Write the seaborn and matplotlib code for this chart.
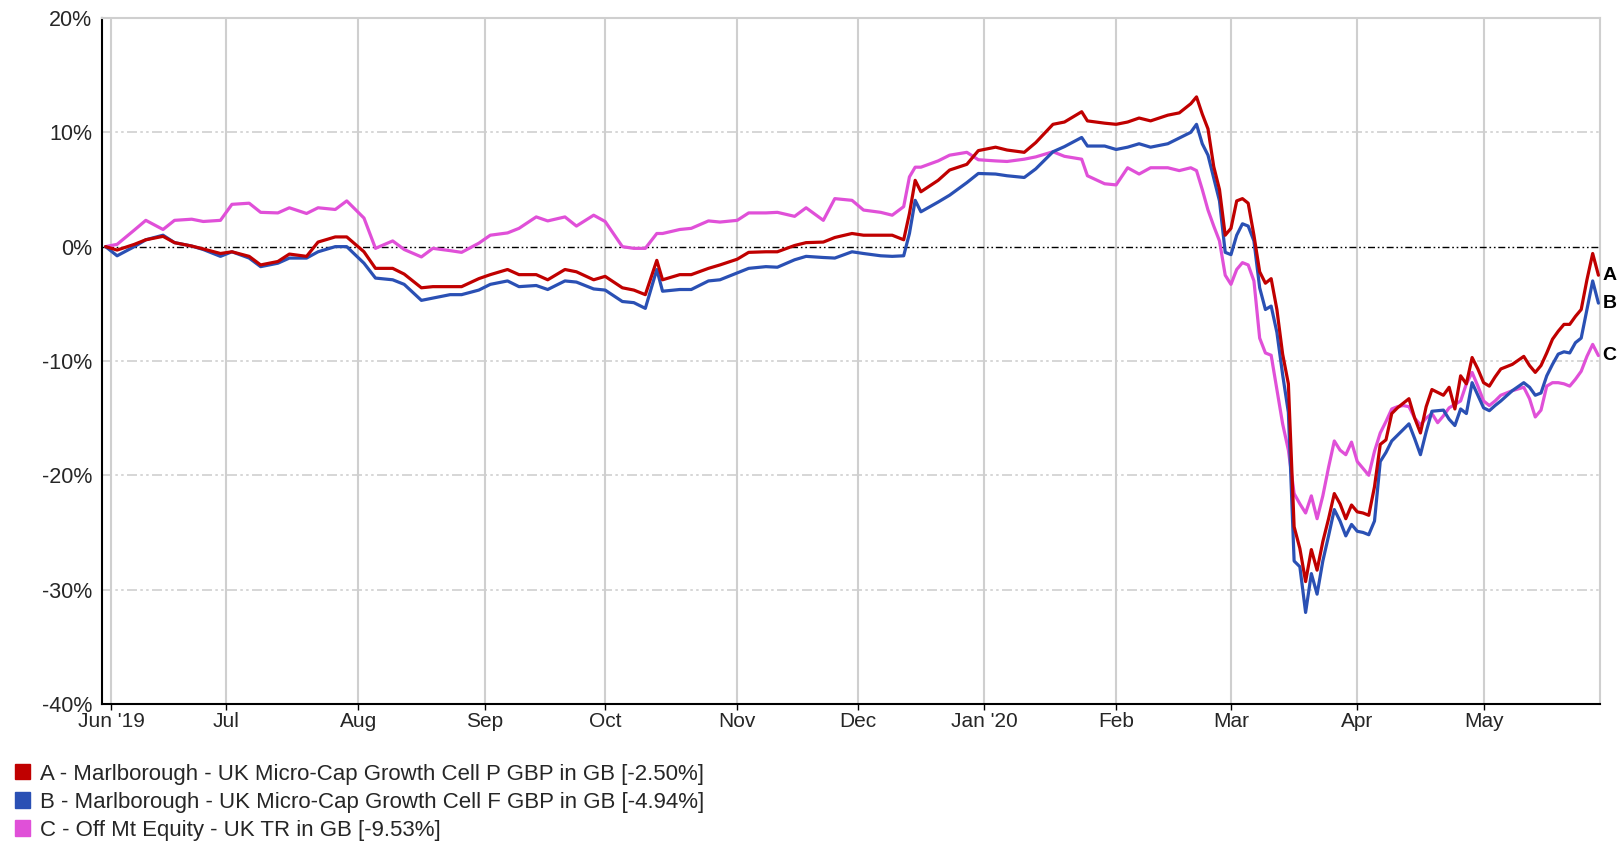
import numpy as np
import pandas as pd
import matplotlib
matplotlib.use("Agg")
import matplotlib.pyplot as plt
from matplotlib.patches import Patch
import seaborn as sns

# values (cumulative % performance)
dates = [
    "2019-05-31", "2019-06-04", "2019-06-07", "2019-06-11", "2019-06-14", "2019-06-18",
    "2019-06-21", "2019-06-25", "2019-06-28", "2019-07-02", "2019-07-05", "2019-07-09",
    "2019-07-12", "2019-07-16", "2019-07-19", "2019-07-23", "2019-07-26", "2019-07-30",
    "2019-08-02", "2019-08-06", "2019-08-09", "2019-08-13", "2019-08-16", "2019-08-20",
    "2019-08-23", "2019-08-27", "2019-08-30", "2019-09-03", "2019-09-06", "2019-09-10",
    "2019-09-13", "2019-09-17", "2019-09-20", "2019-09-24", "2019-09-27", "2019-10-01",
    "2019-10-04", "2019-10-08", "2019-10-10", "2019-10-14", "2019-10-15", "2019-10-18",
    "2019-10-22", "2019-10-25", "2019-10-29", "2019-11-01", "2019-11-05", "2019-11-08",
    "2019-11-12", "2019-11-15", "2019-11-19", "2019-11-22", "2019-11-26", "2019-11-29",
    "2019-12-03", "2019-12-06", "2019-12-10", "2019-12-12", "2019-12-13", "2019-12-16",
    "2019-12-17", "2019-12-20", "2019-12-24", "2019-12-27", "2019-12-31", "2020-01-03",
    "2020-01-07", "2020-01-10", "2020-01-14", "2020-01-17", "2020-01-21", "2020-01-24",
    "2020-01-27", "2020-01-30", "2020-02-03", "2020-02-05", "2020-02-07", "2020-02-11",
    "2020-02-14", "2020-02-18", "2020-02-20", "2020-02-21", "2020-02-24", "2020-02-25",
    "2020-02-26", "2020-02-27", "2020-02-28", "2020-03-02", "2020-03-03", "2020-03-04",
    "2020-03-05", "2020-03-06", "2020-03-09", "2020-03-10", "2020-03-11", "2020-03-12",
    "2020-03-13", "2020-03-16", "2020-03-17", "2020-03-18", "2020-03-19", "2020-03-20",
    "2020-03-23", "2020-03-24", "2020-03-25", "2020-03-26", "2020-03-27", "2020-03-30",
    "2020-03-31", "2020-04-01", "2020-04-02", "2020-04-03", "2020-04-06", "2020-04-07",
    "2020-04-08", "2020-04-09", "2020-04-10", "2020-04-13", "2020-04-14", "2020-04-15",
    "2020-04-16", "2020-04-17", "2020-04-20", "2020-04-21", "2020-04-22", "2020-04-23",
    "2020-04-24", "2020-04-27", "2020-04-28", "2020-04-29", "2020-04-30", "2020-05-01",
    "2020-05-04", "2020-05-05", "2020-05-06", "2020-05-08", "2020-05-12", "2020-05-13",
    "2020-05-14", "2020-05-15", "2020-05-18", "2020-05-19", "2020-05-20", "2020-05-21",
    "2020-05-22", "2020-05-25", "2020-05-26", "2020-05-27", "2020-05-28", "2020-05-29",
]

cell_p = [
    0, -0.3, 0.2, 0.6, 0.9, 0.35,
    0.05, -0.2, -0.6, -0.45, -0.85, -1.6,
    -1.3, -0.65, -0.85, 0.4, 0.85, 0.85,
    -0.45, -1.9, -1.9, -2.4, -3.6, -3.5,
    -3.5, -3.5, -2.8, -2.45, -2.0, -2.45,
    -2.45, -2.9, -2.0, -2.2, -2.9, -2.6,
    -3.6, -3.8, -4.2, -1.2, -2.9, -2.45,
    -2.45, -1.9, -1.6, -1.1, -0.5, -0.45,
    -0.45, 0.1, 0.35, 0.4, 0.8, 1.15,
    1.0, 1.0, 1.0, 0.6, 2.9, 5.8,
    4.8, 5.8, 6.7, 7.2, 8.4, 8.7,
    8.45, 8.25, 9.1, 10.7, 10.9, 11.8,
    11.0, 10.8, 10.7, 10.9, 11.25, 11.0,
    11.5, 11.7, 12.5, 13.1, 11.6, 10.3,
    7.0, 5.0, 1.0, 1.6, 4.0, 4.2,
    3.8, 1.0, -2.2, -3.2, -2.8, -5.5,
    -9.4, -12.0, -24.5, -26.4, -29.3, -26.5,
    -28.3, -25.8, -23.8, -21.6, -22.5, -23.8,
    -22.6, -23.2, -23.3, -23.5, -21.0, -17.3,
    -16.9, -14.6, -14.1, -13.7, -13.3, -15.0,
    -16.3, -14.0, -12.5, -12.75, -13.0, -12.3,
    -14.2, -11.3, -12.0, -9.7, -10.7, -11.9,
    -12.2, -11.4, -10.7, -10.3, -9.6, -10.4,
    -11.0, -10.4, -9.3, -8.1, -7.4, -6.8,
    -6.8, -6.1, -5.5, -2.9, -0.6, -2.50,
]

cell_f = [
    0, -0.8, 0.0, 0.6, 1.0, 0.35,
    0.05, -0.25, -0.85, -0.45, -1.0, -1.75,
    -1.45, -1.0, -1.0, -0.45, 0.0, 0.0,
    -1.45, -2.75, -2.9, -3.3, -4.7, -4.5,
    -4.2, -4.2, -3.8, -3.3, -3.0, -3.5,
    -3.4, -3.75, -3.0, -3.1, -3.7, -3.8,
    -4.8, -4.9, -5.4, -2.0, -3.9, -3.75,
    -3.75, -3.0, -2.9, -2.3, -1.9, -1.75,
    -1.8, -1.15, -0.85, -0.95, -1.0, -0.45,
    -0.6, -0.8, -0.85, -0.8, 1.15, 4.05,
    3.05, 3.9, 4.5, 5.6, 6.4, 6.35,
    6.2, 6.05, 6.8, 8.3, 8.75, 9.55,
    8.8, 8.8, 8.5, 8.7, 9.0, 8.7,
    9.0, 9.5, 10.0, 10.7, 9.0, 8.0,
    6.0, 4.0, -0.5, -0.7, 1.0, 2.0,
    1.8, 0.5, -3.6, -5.5, -5.2, -7.5,
    -11.2, -14.5, -27.5, -28.0, -32.0, -28.6,
    -30.4, -27.5, -25.3, -23.0, -24.0, -25.3,
    -24.3, -24.9, -25.0, -25.2, -24.0, -18.8,
    -18.0, -17.0, -16.5, -16.0, -15.5, -16.8,
    -18.2, -16.2, -14.4, -14.35, -14.3, -15.1,
    -15.65, -14.2, -14.6, -11.9, -13.0, -14.1,
    -14.35, -13.9, -13.5, -12.6, -11.9, -12.3,
    -13.0, -12.8, -11.3, -10.3, -9.4, -9.2,
    -9.3, -8.4, -8.0, -5.5, -3.0, -4.94,
]

sector_uk = [
    0, 0.2, 1.45, 2.3, 1.5, 2.3,
    2.4, 2.2, 2.3, 3.7, 3.8, 3.0,
    2.95, 3.4, 2.9, 3.4, 3.25, 4.0,
    2.5, -0.15, 0.5, -0.25, -0.9, -0.15,
    -0.35, -0.5, 0.3, 1.0, 1.2, 1.6,
    2.6, 2.25, 2.6, 1.8, 2.75, 2.2,
    0.0, -0.15, -0.15, 1.15, 1.15, 1.5,
    1.6, 2.25, 2.15, 2.3, 2.95, 2.95,
    3.0, 2.65, 3.4, 2.3, 4.2, 4.05,
    3.2, 3.0, 2.75, 3.5, 6.1, 6.95,
    6.95, 7.5, 8.0, 8.25, 7.6, 7.5,
    7.45, 7.65, 7.85, 8.3, 7.9, 7.65,
    6.2, 5.5, 5.4, 6.9, 6.35, 6.9,
    6.9, 6.65, 6.9, 6.65, 5.0, 3.2,
    1.8, 0.5, -2.5, -3.3, -2.0, -1.4,
    -1.6, -3.0, -8.0, -9.3, -9.5, -12.5,
    -15.5, -17.8, -21.6, -22.5, -23.3, -21.8,
    -23.8, -21.8, -19.3, -17.0, -17.8, -18.2,
    -17.1, -18.8, -19.4, -20.0, -17.9, -16.3,
    -15.3, -14.2, -14.0, -13.9, -14.0, -15.0,
    -15.6, -15.0, -14.6, -15.4, -14.8, -14.1,
    -13.8, -13.5, -12.0, -11.0, -12.2, -13.5,
    -13.9, -13.5, -13.0, -12.6, -12.3, -13.3,
    -14.9, -14.3, -12.2, -11.9, -11.9, -12.0,
    -12.2, -11.6, -10.9, -9.6, -8.55, -9.53,
]

series_names = [
    "A - Marlborough - UK Micro-Cap Growth Cell P GBP in GB [-2.50%]",
    "B - Marlborough - UK Micro-Cap Growth Cell F GBP in GB [-4.94%]",
    "C - Off Mt Equity - UK TR in GB [-9.53%]",
]
series_tags = ["A", "B", "C"]
series_colors = ["#c00000", "#2a50b4", "#e050d8"]

month_firsts = [
    "2019-06-01", "2019-07-01", "2019-08-01", "2019-09-01", "2019-10-01", "2019-11-01",
    "2019-12-01", "2020-01-01", "2020-02-01", "2020-03-01", "2020-04-01", "2020-05-01",
]
month_labels = ["Jun '19", "Jul", "Aug", "Sep", "Oct", "Nov",
                "Dec", "Jan '20", "Feb", "Mar", "Apr", "May"]

# chart uses a trading-day (weekday) axis
day0 = np.datetime64(dates[0], "D")
xpos = np.busday_count(day0, np.array(dates, dtype="datetime64[D]"))
tick_days = np.busday_offset(np.array(month_firsts, dtype="datetime64[D]"), 0, roll="forward")
tick_pos = np.busday_count(day0, tick_days)

frames = []
for tag, vals in zip(series_tags, [cell_p, cell_f, sector_uk]):
    frames.append(pd.DataFrame({"x": xpos, "value": vals, "series": tag}))
df = pd.concat(frames, ignore_index=True)

sns.set_theme(style="white")
plt.rcParams["font.family"] = ["Liberation Sans", "DejaVu Sans"]

fig = plt.figure(figsize=(16.19, 8.41), dpi=100)
ax = fig.add_axes([0.063, 0.163, 0.925, 0.8156])

grid_col = "#cfcfcf"
for t in tick_pos:
    ax.axvline(t, color=grid_col, lw=1.5, zorder=0)
for v in [10, -10, -20, -30]:
    ax.axhline(v, color=grid_col, lw=1.2, ls=(0, (6, 2, 1.5, 2, 1.5, 2)), zorder=0)
ax.axhline(0, color="black", lw=1.0, ls=(0, (5, 2, 1.2, 2, 1.2, 2)), zorder=1)

palette = dict(zip(series_tags, series_colors))
sns.lineplot(data=df, x="x", y="value", hue="series", hue_order=["C", "B", "A"],
             palette=palette, estimator=None, sort=False, linewidth=2.3,
             legend=False, ax=ax, zorder=3)

ax.set_xlim(-0.63, 260.2)
ax.set_ylim(-40, 20)
ax.set_xticks(tick_pos)
ax.set_xticklabels(month_labels, fontsize=15)
ax.set_yticks(range(-40, 21, 10))
ax.set_yticklabels([f"{v}%" for v in range(-40, 21, 10)], fontsize=15.5)
ax.set_xlabel("")
ax.set_ylabel("")
ax.tick_params(axis="x", length=4, width=1, color="black", pad=1.5, direction="out", bottom=True)
ax.tick_params(axis="y", length=0, pad=7)

for side in ["left", "bottom"]:
    ax.spines[side].set_color("black")
    ax.spines[side].set_linewidth(1.5)
for side in ["top", "right"]:
    ax.spines[side].set_color(grid_col)
    ax.spines[side].set_linewidth(1.5)

for tag, vals in zip(series_tags, [cell_p, cell_f, sector_uk]):
    ax.annotate(tag, xy=(xpos[-1], vals[-1]), xytext=(3, 0), textcoords="offset points",
                ha="left", va="center", fontsize=14, fontweight="bold",
                color="black", annotation_clip=False)

handles = [Patch(facecolor=c, edgecolor=c) for c in series_colors]
fig.legend(handles, series_names, loc="upper left", bbox_to_anchor=(0.009, 0.092),
           frameon=False, fontsize=16, handlelength=0.68, handleheight=0.68,
           handletextpad=0.45, labelspacing=0.32, borderpad=0, borderaxespad=0)

fig.savefig("out.png", dpi=100, facecolor="white")
